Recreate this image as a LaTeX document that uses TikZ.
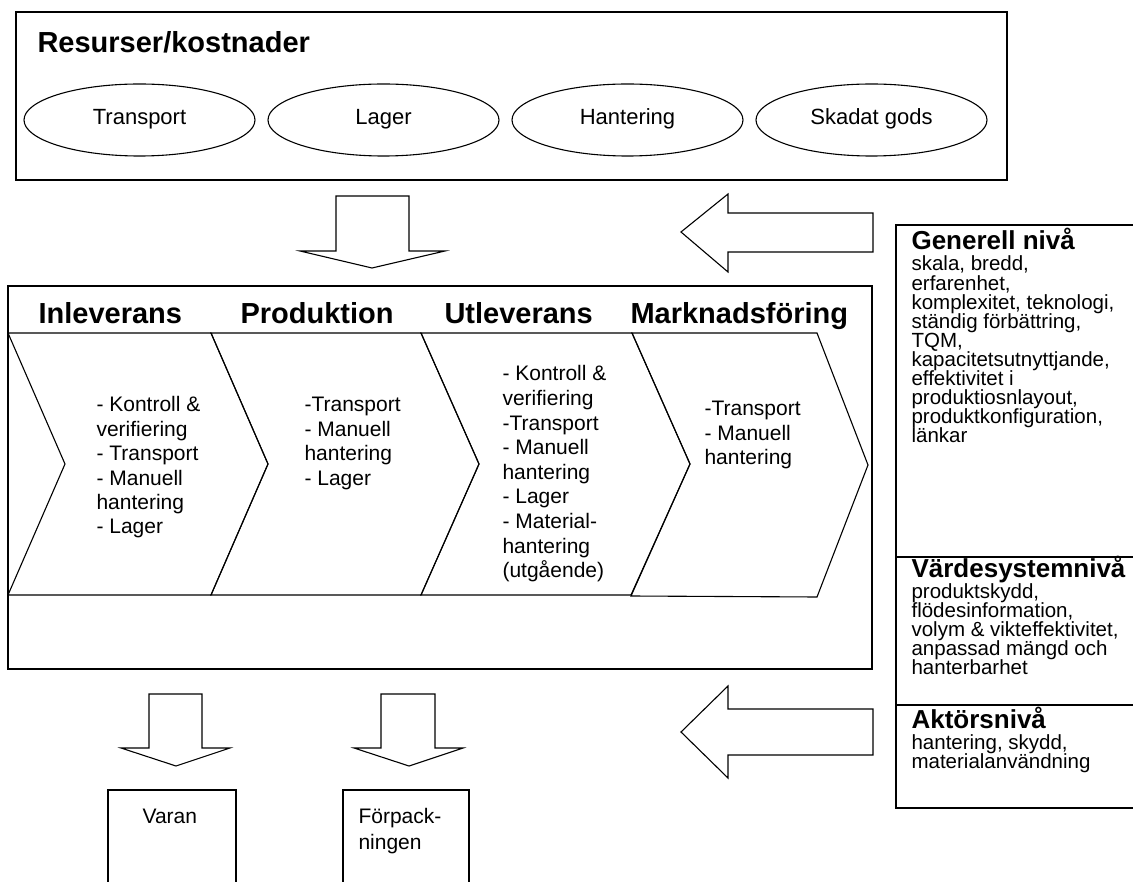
\documentclass[tikz,border=0pt]{standalone}
\usepackage{fontspec}
\setmainfont{Liberation Sans}
\usetikzlibrary{shapes.geometric}

% left-aligned lines with a fixed baseline distance; the box's baseline is the first line's
\newcommand\linestack[2]{\vtop{\tabskip=0pt\baselineskip=#1\lineskiplimit=-\maxdimen\lineskip=0pt\halign{##\hfil\cr#2\crcr}}}

\begin{document}
\begin{tikzpicture}[x=1pt,y=-1pt,line width=1.1pt,line join=miter,
  txt/.style={anchor=base west,inner sep=0pt},
  headtxt/.style={txt,font=\fontsize{29}{33}\selectfont\bfseries},
  bodytxt/.style={txt,font=\fontsize{21}{24.5}\selectfont},
  sidehead/.style={txt,font=\fontsize{26}{30}\selectfont\bfseries},
  sidetxt/.style={txt,font=\fontsize{20.5}{19.2}\selectfont},
  boxtxt/.style={txt,font=\fontsize{21}{26}\selectfont},
  oval/.style={ellipse,draw,minimum height=72pt,inner sep=0pt,
    text height=10pt,text depth=0pt,font=\fontsize{22}{26}\selectfont},
  blockarrow/.style={draw,fill=white,line join=miter},
  frame/.style={draw,line width=1.3pt}]

\fill[white] (0,0) rectangle (1133,882);
\useasboundingbox (0,0) rectangle (1133,882);

% resources / costs
\draw[frame] (16,12) rectangle (1007,180);
\node[headtxt] (res) at (37,53) {Resurser/kostnader};
\node[oval,minimum width=231pt] (transport) at (139.5,120) {Transport};
\node[oval,minimum width=231pt] (lager) at (383.5,120) {Lager};
\node[oval,minimum width=231pt] (hantering) at (627.5,120) {Hantering};
\node[oval,minimum width=231pt] (skadat) at (871.5,120) {Skadat gods};

% block arrows into the value chain
\draw[blockarrow] (336,196) -- (409,196) -- (409,251) -- (445,251) -- (372,268)
  -- (300,251) -- (336,251) -- cycle;
\draw[blockarrow] (873,213) -- (728,213) -- (728,194) -- (681,232) -- (728,272)
  -- (728,252) -- (873,252) -- cycle;

% value chain
\draw[frame] (8,286) rectangle (872,669);
\draw (8,333) -- (211,333) -- (268,464) -- (211,595) -- (8,595) -- (65,464) -- cycle;
\draw (211,333) -- (421,333) -- (479,464) -- (421,595) -- (211,595) -- (268,464) -- cycle;
\draw (421,333) -- (632,333) -- (690,464) -- (631,595) -- (421,595) -- (479,464) -- cycle;
\draw (632,333) -- (817,333) -- (868,465) -- (817,597) -- (631,596) -- (690,464) -- cycle;

\node[headtxt] (inl) at (38,324) {Inleverans};
\node[headtxt] (prod) at (240,324) {Produktion};
\node[headtxt] (utl) at (444,324) {Utleverans};
\node[headtxt] (mark) at (630,324) {Marknadsföring};

\node[bodytxt] (inltxt) at (96,412) {\linestack{24.4pt}{- Kontroll \&\cr verifiering\cr - Transport\cr - Manuell\cr hantering\cr - Lager}};
\node[bodytxt] (prodtxt) at (304,412) {\linestack{24.4pt}{-Transport\cr - Manuell\cr hantering\cr - Lager}};
\node[bodytxt] (utltxt) at (502,381) {\linestack{24.6pt}{- Kontroll \&\cr verifiering\cr -Transport\cr - Manuell\cr hantering\cr - Lager\cr - Material-\cr hantering\cr (utgående)}};
\node[bodytxt] (marktxt) at (704,416) {\linestack{24.4pt}{-Transport\cr - Manuell\cr hantering}};

% outputs
\draw[blockarrow] (149,694) -- (202,694) -- (202,748) -- (230,748) -- (176,766)
  -- (121,748) -- (149,748) -- cycle;
\draw[blockarrow] (381,694) -- (435,694) -- (435,748) -- (463,748) -- (409,766)
  -- (354,748) -- (381,748) -- cycle;
\draw[blockarrow] (873,709) -- (728,709) -- (728,686) -- (681,732) -- (728,778)
  -- (728,755) -- (873,755) -- cycle;

\draw (108,900) -- (108,790) -- (236,790) -- (236,900);
\draw (343,900) -- (343,790) -- (469,790) -- (469,900);
\node[boxtxt] (varan) at (142,823) {Varan};
\node[boxtxt] (forp) at (358,823) {\linestack{26pt}{Förpack-\cr ningen}};

% levels
\draw[frame] (1140,225) -- (896,225) -- (896,808) -- (1140,808);
\draw[frame] (896,557) -- (1140,557);
\draw[frame] (896,705) -- (1140,705);

\node[sidehead] (gen) at (911,250) {Generell nivå};
\node[sidetxt] (gentxt) at (911,271) {\linestack{19.1pt}{skala, bredd,\cr erfarenhet,\cr komplexitet, teknologi,\cr ständig förbättring,\cr TQM,\cr kapacitetsutnyttjande,\cr effektivitet i\cr produktiosnlayout,\cr produktkonfiguration,\cr länkar}};
\node[sidehead] (vard) at (911,577) {Värdesystemnivå};
\node[sidetxt] (vardtxt) at (911,598) {\linestack{19.1pt}{produktskydd,\cr flödesinformation,\cr volym \& vikteffektivitet,\cr anpassad mängd och\cr hanterbarhet}};
\node[sidehead] (akt) at (911,728) {Aktörsnivå};
\node[sidetxt] (akttxt) at (911,749) {\linestack{19.1pt}{hantering, skydd,\cr materialanvändning}};

\end{tikzpicture}
\end{document}
